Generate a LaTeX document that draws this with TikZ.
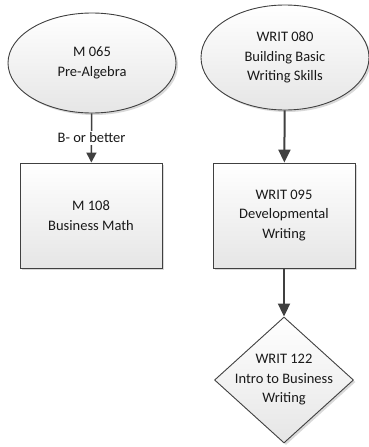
\documentclass[tikz,border=0pt]{standalone}
\usepackage{fontspec}
\setmainfont{Carlito}
\usetikzlibrary{shapes.geometric,arrows.meta,shadows}
\definecolor{bord}{HTML}{404040}
\tikzset{
  course/.style={draw=bord, line width=0.9pt, align=center, text=black!90,
    font=\fontsize{14.5}{19.5}\selectfont, top color=white, bottom color=black!10,
    drop shadow={shadow xshift=2pt, shadow yshift=-2pt, fill=black!25, opacity=0.6}},
  fleche/.style={draw=bord, line width=2pt, -{Triangle[length=13pt,width=12pt]}}
}
\begin{document}
\begin{tikzpicture}[x=1pt,y=-1pt]
    \useasboundingbox (0,0) rectangle (369,447);
    % maths
    \node[course, ellipse, minimum width=168pt, minimum height=100pt] (m065) at (92,63) {M 065\\Pre-Algebra};
    \node[course, rectangle, minimum width=142pt, minimum height=105pt] (m108) at (91,215.5) {M 108\\Business Math};
    % ecriture
    \node[course, ellipse, minimum width=168pt, minimum height=105pt] (w080) at (285,57.5) {WRIT 080\\Building Basic\\Writing Skills};
    \node[course, rectangle, minimum width=142pt, minimum height=105pt] (w095) at (284,215.5) {WRIT 095\\Developmental\\Writing};
    \node[course, diamond, aspect=1.1, inner sep=-12pt, minimum width=139pt, minimum height=126pt] (w122) at (284,380) {WRIT 122\\Intro to Business\\Writing};
    % fleches
    \draw[fleche, line width=1.5pt, -{Triangle[length=10pt,width=10pt]}] (m065) -- node[fill=white, font=\fontsize{14.5}{17}\selectfont, text=black!90, inner sep=2pt] {B- or better} (m108);
    \draw[fleche] (w080) -- (w095);
    \draw[fleche] (w095) -- (w122);
\end{tikzpicture}
\end{document}
